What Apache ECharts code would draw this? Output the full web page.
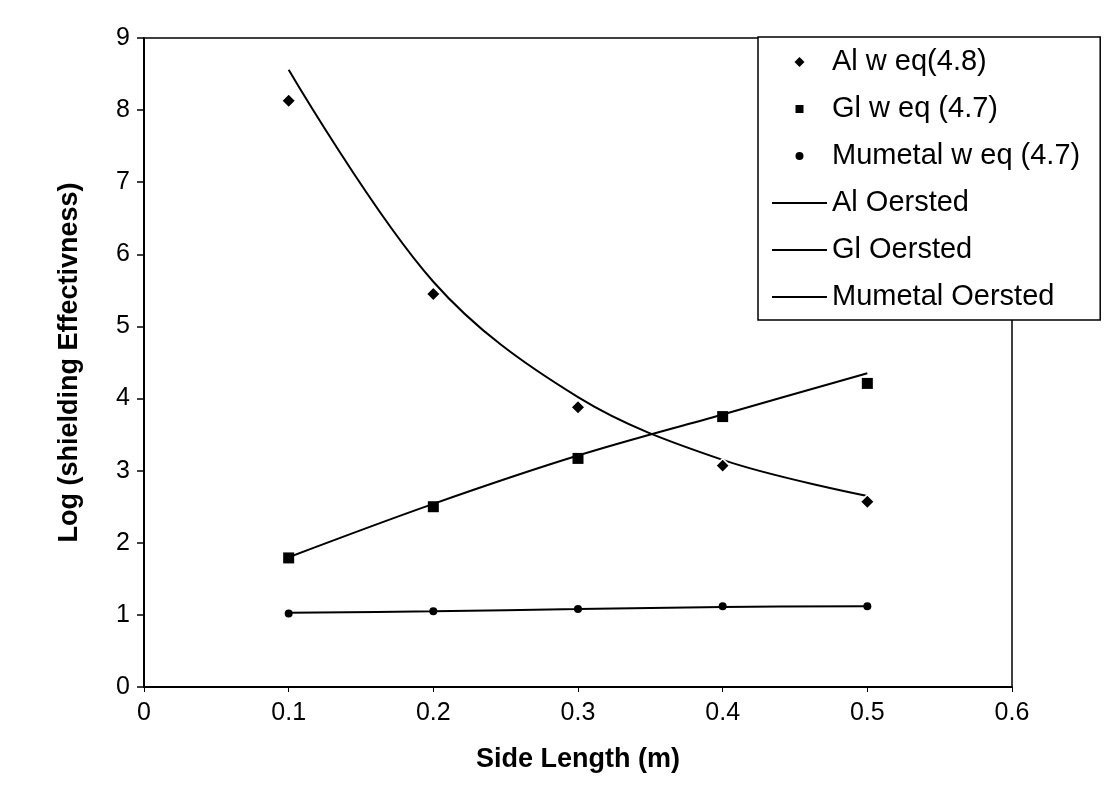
<!DOCTYPE html>
<html>
<head>
<meta charset="utf-8">
<title>Shielding effectiveness vs side length</title>
<script src="https://cdn.jsdelivr.net/npm/echarts@6/dist/echarts.min.js"></script>
<style>
  html, body { margin: 0; padding: 0; background: #fff; }
  #chart { width: 1114px; height: 789px; }
</style>
</head>
<body>
<div id="chart"></div>
<script>
// Side length of the enclosure (m)
const sideLength = [0.1, 0.2, 0.3, 0.4, 0.5];

// Log10 of shielding effectiveness from the equations
const alEq48      = [8.13, 5.45, 3.88, 3.07, 2.57];
const glEq47      = [1.79, 2.50, 3.17, 3.75, 4.21];
const mumetalEq47 = [1.02, 1.05, 1.08, 1.12, 1.12];

// Log10 of shielding effectiveness from the Oersted model
const alOersted      = [8.56, 5.62, 4.02, 3.15, 2.65];
const glOersted      = [1.80, 2.54, 3.21, 3.78, 4.35];
const mumetalOersted = [1.03, 1.05, 1.08, 1.11, 1.12];

// Axis tick labels
const xTickLabels = ['0', '0.1', '0.2', '0.3', '0.4', '0.5', '0.6'];
const yTickLabels = ['0', '1', '2', '3', '4', '5', '6', '7', '8', '9'];

const seriesNames = [
  'Al w eq(4.8)', 'Gl w eq (4.7)', 'Mumetal w eq (4.7)',
  'Al Oersted', 'Gl Oersted', 'Mumetal Oersted'
];

// Legend icons: each path spans the full 55x12 icon box (leading moveTo's),
// so the small marker stays centred and unstretched.
const BOX = 'M0 0M55 12';
const legendIcons = [
  'path://' + BOX + 'M22.5 6L27.5 1L32.5 6L27.5 11Z',
  'path://' + BOX + 'M23.5 2H31.5V10H23.5Z',
  'path://' + BOX + 'M31.5 6A4 4 0 1 1 23.5 6A4 4 0 1 1 31.5 6Z',
  'path://' + BOX + 'M0 5H55V7H0Z',
  'path://' + BOX + 'M0 5H55V7H0Z',
  'path://' + BOX + 'M0 5H55V7H0Z'
];

const pairs = vals => sideLength.map((x, i) => [x, vals[i]]);

const FONT = 'Arial, "Liberation Sans", sans-serif';

const chart = echarts.init(document.getElementById('chart'), null, { renderer: 'canvas' });

const scatterSeries = (name, vals, symbol, size, halo) => ({
  name, type: 'scatter', data: pairs(vals), symbol, symbolSize: size, z: 4,
  itemStyle: { color: '#000', opacity: 1, borderColor: '#fff', borderWidth: halo },
  emphasis: { disabled: true }
});

const lineSeries = (name, vals) => ({
  name, type: 'line', data: pairs(vals), smooth: 0.35, symbol: 'none', z: 3,
  lineStyle: { color: '#000', width: 2 },
  itemStyle: { color: '#000' },
  emphasis: { disabled: true }
});

chart.setOption({
  animation: false,
  backgroundColor: '#fff',
  textStyle: { fontFamily: FONT, color: '#000' },
  grid: {
    left: 144, top: 38, right: 102, bottom: 102,
    show: true, borderColor: '#000', borderWidth: 1.5, backgroundColor: 'transparent'
  },
  xAxis: {
    type: 'value', min: 0, max: 0.6, interval: 0.1,
    name: 'Side Length (m)', nameLocation: 'middle', nameGap: 73,
    nameTextStyle: { fontFamily: FONT, fontSize: 27, fontWeight: 'bold', color: '#000', verticalAlign: 'middle' },
    axisLine: { show: true, onZero: false, lineStyle: { color: '#000', width: 2 } },
    axisTick: { show: true, inside: false, length: 5, lineStyle: { color: '#000', width: 1 } },
    axisLabel: {
      margin: 14, fontFamily: FONT, fontSize: 25, color: '#000',
      formatter: v => xTickLabels[Math.round(v * 10)]
    },
    splitLine: { show: false }
  },
  yAxis: {
    type: 'value', min: 0, max: 9, interval: 1,
    name: 'Log (shielding Effectivness)', nameLocation: 'middle', nameGap: 74, nameRotate: 90,
    nameTextStyle: { fontFamily: FONT, fontSize: 27, fontWeight: 'bold', color: '#000', verticalAlign: 'middle' },
    axisLine: { show: true, onZero: false, lineStyle: { color: '#000', width: 2 } },
    axisTick: { show: true, inside: false, length: 7, lineStyle: { color: '#000', width: 1.5 } },
    axisLabel: {
      margin: 14, fontFamily: FONT, fontSize: 25, color: '#000',
      formatter: v => yTickLabels[Math.round(v)]
    },
    splitLine: { show: false }
  },
  legend: {
    orient: 'vertical',
    left: 758, top: 37,
    padding: [10, 20, 8, 14],
    itemGap: 17,
    itemWidth: 55,
    itemHeight: 12,
    backgroundColor: '#fff',
    borderColor: '#000',
    borderWidth: 1.5,
    selectedMode: false,
    data: seriesNames.map((name, i) => ({ name, icon: legendIcons[i] })),
    itemStyle: { opacity: 1, borderWidth: 0 },
    textStyle: { fontFamily: FONT, fontSize: 29, color: '#000', lineHeight: 30 }
  },
  series: [
    scatterSeries(seriesNames[0], alEq48, 'diamond', 14, 1.5),
    scatterSeries(seriesNames[1], glEq47, 'rect', 11, 0),
    scatterSeries(seriesNames[2], mumetalEq47, 'circle', 8, 0),
    lineSeries(seriesNames[3], alOersted),
    lineSeries(seriesNames[4], glOersted),
    lineSeries(seriesNames[5], mumetalOersted)
  ]
});
</script>
</body>
</html>
